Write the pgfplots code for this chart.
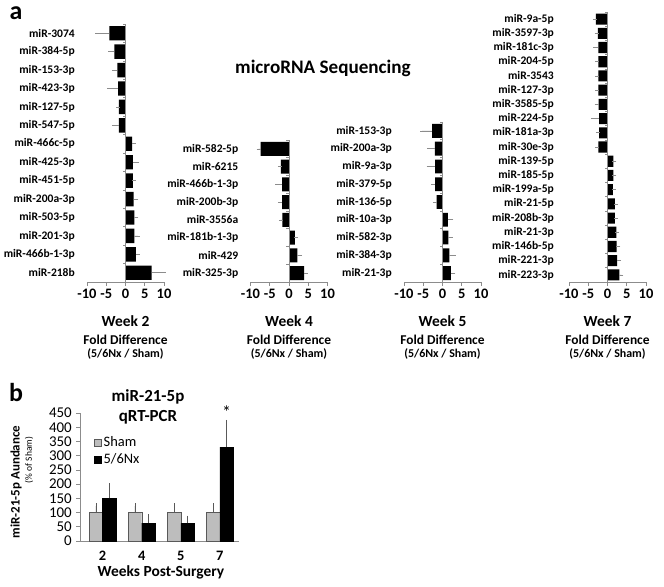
\documentclass[border=0pt]{standalone}
\usepackage{pgfplots}
\pgfplotsset{compat=1.18}
\usepackage{fontspec}
\setmainfont{Carlito}
\definecolor{axgray}{HTML}{8C8C8C}
\definecolor{shamgray}{HTML}{BDBDBD}
\newcommand{\fs}[1]{\fontsize{#1}{#1}\selectfont}

\pgfplotsset{
  wk/.style={
    xbar, scale only axis, width=77bp,
    xmin=-10, xmax=10, xtick={-10,-5,0,5,10},
    y dir=reverse, ymin=-0.5,
    axis x line*=bottom, axis y line*=left,
    axis line style={-},
    y axis line style={draw=none},
    x axis line style={axgray, line width=0.7pt},
    xtick style={axgray, line width=0.7pt}, tick align=outside, major tick length=4bp,
    ytick style={draw=none},
    bar width=0.78, bar shift=0pt,
    /pgf/number format/assume math mode=true,
    xticklabel style={font=\fs{14.5}\bfseries, inner sep=1bp, yshift=-2bp},
    yticklabel style={font=\fs{11.6}\bfseries, inner sep=0pt, xshift=-8bp},
    clip=false,
    anchor=south west,
  },
  neg/.style={fill=black, draw=none,
    error bars/.cd, x dir=minus, x explicit,
    error bar style={axgray, line width=0.6pt},
    error mark options={axgray, mark size=2bp, line width=0.6pt}},
  pos/.style={fill=black, draw=none,
    error bars/.cd, x dir=plus, x explicit,
    error bar style={axgray, line width=0.6pt},
    error mark options={axgray, mark size=2bp, line width=0.6pt}},
}

\begin{document}
\begin{tikzpicture}
\useasboundingbox (0,0) rectangle (664bp,-587bp);

% ---------- panel labels and title
\node[font=\fs{26}\bfseries] at (16bp,-13bp) {a};
\node[font=\fs{26}\bfseries] at (16bp,-393bp) {b};
\node[font=\fs{19.2}\bfseries] at (323bp,-68bp) {microRNA Sequencing};

% ---------- Week 2
\begin{axis}[wk, at={(87bp,-282bp)}, height=258bp, ymax=13.5,
  ytick={0,...,13},
  yticklabels={miR-3074,miR-384-5p,miR-153-3p,miR-423-3p,miR-127-5p,miR-547-5p,miR-466c-5p,miR-425-3p,miR-451-5p,miR-200a-3p,miR-503-5p,miR-201-3p,miR-466b-1-3p,miR-218b}]
\addplot[neg] coordinates {(-4.2,0) +- (3.2,0) (-2.9,1) +- (1.0,0) (-2.1,2) +- (0.8,0) (-1.9,3) +- (2.3,0) (-1.7,4) +- (0.2,0) (-1.7,5) +- (1.3,0)};
\addplot[pos] coordinates {(1.7,6) +- (0.5,0) (1.9,7) +- (1.1,0) (1.9,8) +- (0.3,0) (2.1,9) +- (0.7,0) (2.3,10) +- (0.5,0) (2.3,11) +- (0.9,0) (2.7,12) +- (0.5,0) (6.8,13) +- (3.1,0)};
\draw[axgray, line width=0.7pt] (axis cs:0,-0.5) -- (axis cs:0,13.5);
\pgfplotsinvokeforeach{0,...,14}{\draw[axgray, line width=0.6pt] (axis cs:0,#1-0.5) -- ++(-3bp,0bp);}
\end{axis}

% ---------- Week 4
\begin{axis}[wk, at={(250.5bp,-282bp)}, height=142bp, ymax=7.5,
  ytick={0,...,7},
  yticklabels={miR-582-5p,miR-6215,miR-466b-1-3p,miR-200b-3p,miR-3556a,miR-181b-1-3p,miR-429,miR-325-3p}]
\addplot[neg] coordinates {(-7.4,0) +- (0.5,0) (-2.1,1) +- (0.3,0) (-1.8,2) +- (1.2,0) (-1.8,3) +- (0.6,0) (-1.7,4) +- (0.4,0)};
\addplot[pos] coordinates {(1.5,5) +- (0.3,0) (2.2,6) +- (0.7,0) (3.9,7) +- (0.4,0)};
\draw[axgray, line width=0.7pt] (axis cs:0,-0.5) -- (axis cs:0,7.5);
\pgfplotsinvokeforeach{0,...,8}{\draw[axgray, line width=0.6pt] (axis cs:0,#1-0.5) -- ++(-3bp,0bp);}
\end{axis}

% ---------- Week 5
\begin{axis}[wk, at={(404bp,-282bp)}, height=160bp, ymax=8.5,
  ytick={0,...,8},
  yticklabels={miR-153-3p,miR-200a-3p,miR-9a-3p,miR-379-5p,miR-136-5p,miR-10a-3p,miR-582-3p,miR-384-3p,miR-21-3p}]
\addplot[neg] coordinates {(-2.7,0) +- (2.6,0) (-2.0,1) +- (1.4,0) (-1.9,2) +- (1.7,0) (-1.9,3) +- (0.5,0) (-1.5,4) +- (0.5,0)};
\addplot[pos] coordinates {(1.4,5) +- (0.9,0) (1.5,6) +- (0.6,0) (1.8,7) +- (1.1,0) (2.2,8) +- (0.6,0)};
\draw[axgray, line width=0.7pt] (axis cs:0,-0.5) -- (axis cs:0,8.5);
\pgfplotsinvokeforeach{0,...,9}{\draw[axgray, line width=0.6pt] (axis cs:0,#1-0.5) -- ++(-3bp,0bp);}
\end{axis}

% ---------- Week 7
\begin{axis}[wk, at={(569bp,-282bp)}, height=270bp, ymax=18.5,
  ytick={0,...,18},
  yticklabel style={xshift=-3bp},
  yticklabels={miR-9a-5p,miR-3597-3p,miR-181c-3p,miR-204-5p,miR-3543,miR-127-3p,miR-3585-5p,miR-224-5p,miR-181a-3p,miR-30e-3p,miR-139-5p,miR-185-5p,miR-199a-5p,miR-21-5p,miR-208b-3p,miR-21-3p,miR-146b-5p,miR-221-3p,miR-223-3p}]
\addplot[neg] coordinates {(-3.0,0) +- (0.3,0) (-2.5,1) +- (0.3,0) (-2.4,2) +- (0.8,0) (-2.4,3) +- (0.3,0) (-2.4,4) +- (0.2,0) (-2.4,5) +- (0.3,0) (-2.3,6) +- (0.5,0) (-2.2,7) +- (1.5,0) (-2.2,8) +- (0.3,0) (-2.4,9) +- (0.2,0)};
\addplot[pos] coordinates {(1.5,10) +- (0.3,0) (1.5,11) +- (0.3,0) (1.4,12) +- (0.2,0) (1.9,13) +- (0.2,0) (1.9,14) +- (0.2,0) (2.3,15) +- (0.2,0) (2.4,16) +- (0.4,0) (2.5,17) +- (0.5,0) (3.1,18) +- (0.5,0)};
\draw[axgray, line width=0.7pt] (axis cs:0,-0.5) -- (axis cs:0,18.5);
\pgfplotsinvokeforeach{0,...,19}{\draw[axgray, line width=0.6pt] (axis cs:0,#1-0.5) -- ++(-3bp,0bp);}
\end{axis}

% ---------- week captions
\foreach \cx/\w in {125.5/2, 289/4, 442.5/5, 607.5/7}{
  \node[font=\fs{15.5}\bfseries] at (\cx bp,-321.5bp) {Week \w};
  \node[font=\fs{13.5}\bfseries] at (\cx bp,-339.5bp) {Fold Difference};
  \node[font=\fs{12}\bfseries] at (\cx bp,-353.5bp) {(5/6Nx / Sham)};
}

% ---------- panel b
\begin{axis}[scale only axis, anchor=south west, at={(80bp,-541bp)},
  width=159bp, height=128bp,
  ybar, bar width=0.345,
  xmin=-0.58, xmax=3.49, ymin=0, ymax=450,
  ytick={0,50,...,450},
  xtick={0,1,2,3}, xticklabels={2,4,5,7},
  axis x line*=bottom, axis y line*=left,
  axis line style={-, axgray, line width=0.7pt},
  xtick style={draw=none},
  ytick style={axgray, line width=0.6pt}, tick align=outside, major tick length=4bp,
  /pgf/number format/assume math mode=true,
  yticklabel style={font=\fs{15}, inner sep=0pt, xshift=-4bp},
  xticklabel style={font=\fs{14.5}\bfseries, inner sep=0pt, yshift=-6bp},
  clip=false,
  legend style={at={(axis cs:-0.22,374)}, anchor=north west, draw=none, fill=none,
    font=\fs{14.5}, inner sep=0pt, row sep=1.5bp, column sep=0pt},
  legend cell align=left,
  legend image code/.code={\draw[#1] (0bp,-3.5bp) rectangle (7bp,3.5bp);},
]
\addplot[fill=shamgray, draw=gray!70!black, line width=0.4pt, bar shift=-0.1725,
  error bars/.cd, y dir=plus, y explicit,
  error bar style={gray!70!black, line width=0.6pt},
  error mark options={gray!70!black, mark size=3bp, line width=0.6pt}]
  coordinates {(0,100) +- (0,23) (1,100) +- (0,23) (2,100) +- (0,23) (3,100) +- (0,23)};
\addplot[fill=black, draw=black, bar shift=0.1725,
  error bars/.cd, y dir=plus, y explicit,
  error bar style={gray!70!black, line width=0.6pt},
  error mark options={gray!70!black, mark size=3bp, line width=0.6pt}]
  coordinates {(0,150) +- (0,42) (1,63) +- (0,20) (2,62) +- (0,17) (3,330) +- (0,85)};
\legend{Sham,5/6Nx}
\node[font=\fs{18}, anchor=south] at (axis cs:3.1725,418) {*};
\end{axis}

\node[font=\fs{17}\bfseries] at (148bp,-397bp) {miR-21-5p};
\node[font=\fs{17}\bfseries] at (148bp,-417bp) {qRT-PCR};
\node[font=\fs{15.5}\bfseries] at (161bp,-572bp) {Weeks Post-Surgery};
\node[font=\fs{13}\bfseries, rotate=90] at (16bp,-482bp) {miR-21-5p Aundance};
\node[font=\fs{9.5}, rotate=90] at (29bp,-460bp) {(\% of Sham)};
\end{tikzpicture}
\end{document}
